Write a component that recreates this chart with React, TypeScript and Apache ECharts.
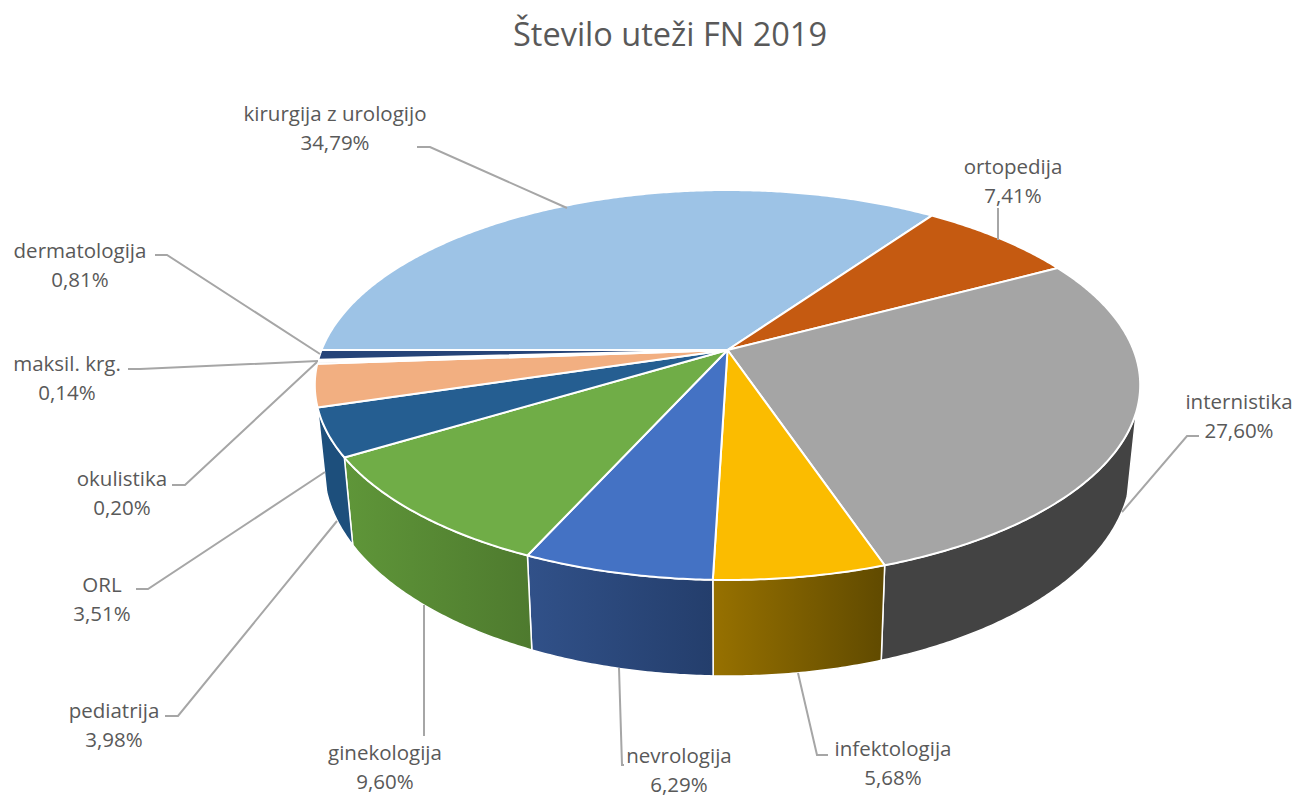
import React, { useEffect, useRef } from "react";
import * as echarts from "echarts";

// Share of weights per department, in percent, clockwise from the left edge of the disc.
const departments = [
  "kirurgija z urologijo",
  "ortopedija",
  "internistika",
  "infektologija",
  "nevrologija",
  "ginekologija",
  "pediatrija",
  "ORL",
  "okulistika",
  "maksil. krg.",
  "dermatologija",
];
const shares = [34.79, 7.41, 27.6, 5.68, 6.29, 9.6, 3.98, 3.51, 0.2, 0.14, 0.81];

const topColors = [
  "#9DC3E6", "#C55A11", "#A5A5A5", "#FBBC00", "#4472C4", "#70AD47",
  "#255E91", "#F2AF81", "#C9C9C9", "#FFE699", "#264478",
];
// Left and right ends of each slice's rim gradient; null where no rim is visible.
const rimColors: ([string, string] | null)[] = [
  null, null,
  ["#434343", "#434343"],
  ["#977100", "#604A00"],
  ["#315189", "#243E6C"],
  ["#5F9639", "#4E7A2E"],
  ["#1D4F7C", "#1D4F7C"],
  null, null, null, null,
];

// Label anchors (centre x, first-line centre y).
const labelAnchors = [
  [335, 113], [1013, 166], [1239, 401], [893, 748], [679, 755], [385, 752],
  [114, 710], [102, 584], [122, 478], [67, 363], [80, 250],
];
// Leader lines running from label to slice.
const leaders = [
  [[417, 147], [430, 147], [567, 208]],
  [[998, 208], [998, 240]],
  [[1199, 436], [1187, 436], [1122, 512]],
  [[828, 755], [817, 755], [798, 673]],
  [[624, 765], [622, 765], [619, 668]],
  [[424, 736], [424, 605]],
  [[165, 716], [178, 716], [337, 521]],
  [[136, 589], [148, 589], [325, 472]],
  [[172, 485], [185, 485], [317, 362]],
  [[128, 369], [140, 369], [318, 361]],
  [[155, 255], [167, 255], [320, 354]],
];

// Perspective model of the disc.
const DISC = { cx: 727.5, cy: 350, a: 406, b: 188.7, k: 0.1795 };
const BASE = { sx: 0.978, sy: 1.07, dy: 80 };
const FIRST_ANGLE = -90;
const RIM_FROM = 108;
const RIM_TO = 253.4;
const FONT = '"Open Sans", sans-serif';

const total = shares.reduce((s, v) => s + v, 0);

function sliceAngles(index: number): [number, number] {
  let before = 0;
  for (let i = 0; i < index; i++) before += shares[i];
  const start = FIRST_ANGLE + (before / total) * 360;
  return [start, start + (shares[index] / total) * 360];
}

// Projects a rim point, angle measured clockwise from the far side, to disc-relative pixels.
function project(deg: number): [number, number] {
  const r = (deg * Math.PI) / 180;
  const u = Math.sin(r);
  const v = -Math.cos(r);
  const w = 1 - DISC.k * v;
  return [(DISC.a * u) / w, (DISC.b * v) / w];
}

function topPoint(deg: number): number[] {
  const [x, y] = project(deg);
  return [DISC.cx + x, DISC.cy + y];
}

function basePoint(deg: number): number[] {
  const [x, y] = project(deg);
  return [DISC.cx + BASE.sx * x, DISC.cy + BASE.dy + BASE.sy * y];
}

function arc(from: number, to: number, at: (d: number) => number[]): number[][] {
  const steps = Math.max(2, Math.ceil((to - from) * 2));
  const pts: number[][] = [];
  for (let i = 0; i <= steps; i++) pts.push(at(from + ((to - from) * i) / steps));
  return pts;
}

function renderTop(params: any, api: any) {
  const i = params.dataIndex;
  const [start, end] = sliceAngles(i);
  return {
    type: "polygon",
    shape: { points: [[DISC.cx, DISC.cy], ...arc(start, end, topPoint)] },
    style: { fill: topColors[i], stroke: "#FFFFFF", lineWidth: 2, lineJoin: "round" },
  };
}

function renderRim(params: any, api: any) {
  const i = params.dataIndex;
  const colors = rimColors[i];
  const [start, end] = sliceAngles(i);
  const from = Math.max(start, RIM_FROM);
  const to = Math.min(end, RIM_TO);
  if (!colors || to <= from) return { type: "group", children: [] };
  return {
    type: "polygon",
    shape: { points: [...arc(from, to, topPoint), ...arc(from, to, basePoint).reverse()] },
    style: {
      fill: new echarts.graphic.LinearGradient(0, 0, 1, 0, [
        { offset: 0, color: colors[0] },
        { offset: 1, color: colors[1] },
      ]),
      stroke: "#FFFFFF",
      lineWidth: 1.5,
      lineJoin: "round",
    },
  };
}

function renderLabel(params: any, api: any) {
  const i = params.dataIndex;
  const [x, y] = labelAnchors[i];
  const percent = api.value(0).toFixed(2).replace(".", ",") + "%";
  const textStyle = {
    fill: "#595959",
    font: `20.5px ${FONT}`,
    align: "center",
    verticalAlign: "middle",
  };
  return {
    type: "group",
    children: [
      {
        type: "polyline",
        shape: { points: leaders[i] },
        style: { stroke: "#A6A6A6", lineWidth: 2, fill: "none" },
      },
      { type: "text", style: { ...textStyle, text: departments[i], x, y } },
      { type: "text", style: { ...textStyle, text: percent, x, y: y + 29 } },
    ],
  };
}

export default function App() {
  const ref = useRef<HTMLDivElement>(null);

  useEffect(() => {
    const chart = echarts.init(ref.current!, undefined, { renderer: "svg" });
    const data = shares.map((v) => [v]);
    const base = { type: "custom", coordinateSystem: "none", data, silent: true };
    chart.setOption({
      animation: false,
      backgroundColor: "#FFFFFF",
      title: {
        text: "Število uteži FN 2019",
        left: 665,
        top: 28,
        textAlign: "center",
        textVerticalAlign: "middle",
        textStyle: { color: "#595959", fontFamily: FONT, fontSize: 32.5, fontWeight: "normal" },
      },
      series: [
        { ...base, name: "rim", z: 1, renderItem: renderRim },
        { ...base, name: "top", z: 2, renderItem: renderTop },
        { ...base, name: "labels", z: 3, renderItem: renderLabel },
      ],
    });
    return () => chart.dispose();
  }, []);

  return <div ref={ref} style={{ position: "absolute", left: 0, top: 0, width: 1296, height: 799 }} />;
}
